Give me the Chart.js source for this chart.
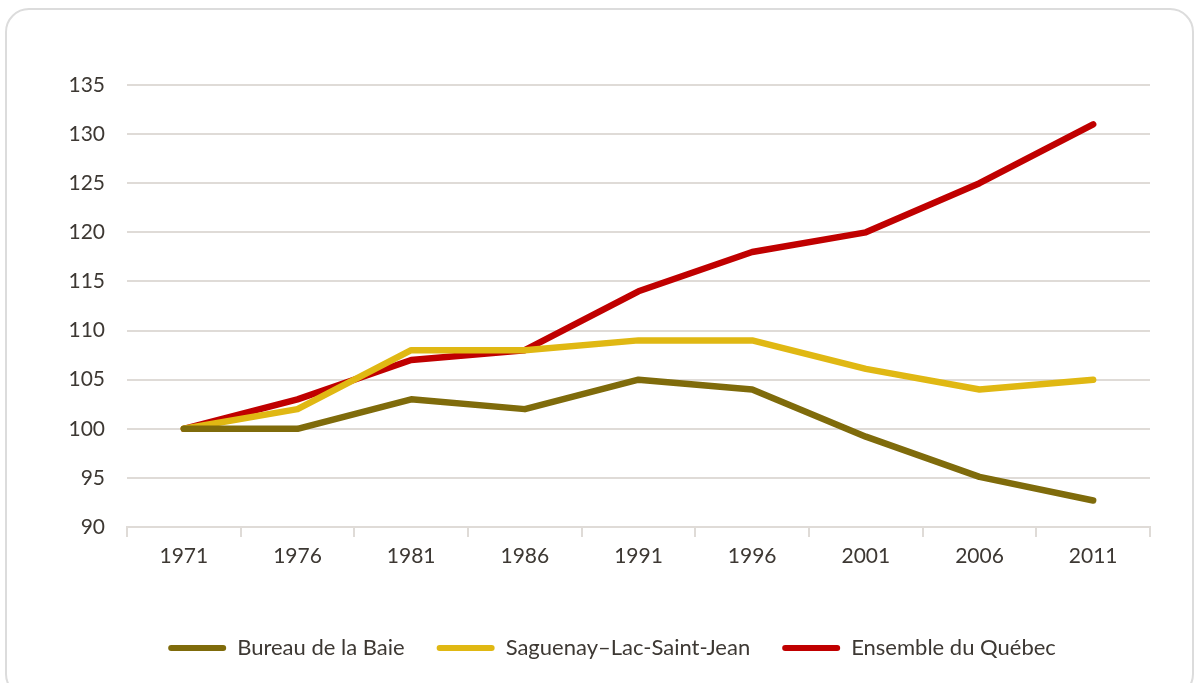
<!DOCTYPE html>
<html lang="fr">
<head>
<meta charset="utf-8">
<title>Indice de population</title>
<script src="https://cdn.jsdelivr.net/npm/chart.js@4.4.1/dist/chart.umd.min.js"></script>
<style>
  html, body { margin: 0; padding: 0; background: #fff; overflow: hidden; }
  .carte {
    position: absolute; left: 5px; top: 8px; width: 1189px; height: 690px;
    border: 2px solid #dcdcdc; border-radius: 24px; box-sizing: border-box;
  }
  .zone { position: absolute; left: 0; top: 0; width: 1201px; height: 683px; }
</style>
</head>
<body>
<div class="carte"></div>
<div class="zone"><canvas id="graphique"></canvas></div>
<script>
// Années de recensement
var annees = ['1971', '1976', '1981', '1986', '1991', '1996', '2001', '2006', '2011'];

// Indices (1971 = 100)
var bureauBaie = [100, 100, 103, 102, 105, 104, 99.2, 95.1, 92.7];
var saguenay = [100, 102, 108, 108, 109, 109, 106.1, 104, 105];
var quebec = [100, 103, 107, 108, 114, 118, 120, 125, 131];

var police = 'Lato, "Open Sans", sans-serif';
var texte = '#3d3833';
var grille = '#dfdbd7';

function serie(nom, valeurs, couleur) {
  return {
    label: nom,
    data: valeurs,
    borderColor: couleur,
    backgroundColor: couleur,
    borderWidth: 6.5,
    borderCapStyle: 'round',
    borderJoinStyle: 'round',
    pointRadius: 0,
    tension: 0
  };
}

// la légende est centrée sous la zone de tracé, pas sous tout le canevas
const decalerLegende = {
  id: 'decalerLegende',
  afterLayout: function (chart) {
    chart.legend.left = chart.chartArea.left - 53;
  }
};

const ctx = document.getElementById('graphique').getContext('2d');
const graphique = new Chart(ctx, {
  type: 'line',
  data: {
    labels: annees,
    datasets: [
      serie('Bureau de la Baie', bureauBaie, '#7f6b0b'),
      serie('Saguenay\u2013Lac-Saint-Jean', saguenay, '#e0b813'),
      serie('Ensemble du Québec', quebec, '#c00000')
    ]
  },
  plugins: [decalerLegende],
  options: {
    responsive: true,
    maintainAspectRatio: false,
    animation: false,
    layout: { padding: { top: 85, right: 51, bottom: 14, left: 0 } },
    plugins: {
      tooltip: { enabled: false },
      legend: {
        position: 'bottom',
        labels: {
          color: texte,
          font: { family: police, size: 22 },
          boxWidth: 58,
          boxHeight: 6,
          useBorderRadius: true,
          borderRadius: 3,
          padding: 32,
          generateLabels: function (chart) {
            return Chart.defaults.plugins.legend.labels.generateLabels(chart).map(function (l) {
              l.lineWidth = 0;
              return l;
            });
          }
        }
      }
    },
    scales: {
      x: {
        offset: true,
        afterFit: function (s) { s.height = 78; },
        grid: {
          offset: true,
          drawOnChartArea: false,
          drawTicks: true,
          tickLength: 10,
          color: grille,
          lineWidth: 2
        },
        border: { display: true, color: grille, width: 2 },
        ticks: { color: texte, font: { family: police, size: 21 }, padding: 7, maxRotation: 0 }
      },
      y: {
        min: 90,
        max: 135,
        afterFit: function (s) { s.width = 127; },
        grid: { color: grille, lineWidth: 2, drawTicks: false },
        border: { display: false },
        ticks: { stepSize: 5, color: texte, font: { family: police, size: 21 }, padding: 22 }
      }
    }
  }
});
</script>
</body>
</html>
